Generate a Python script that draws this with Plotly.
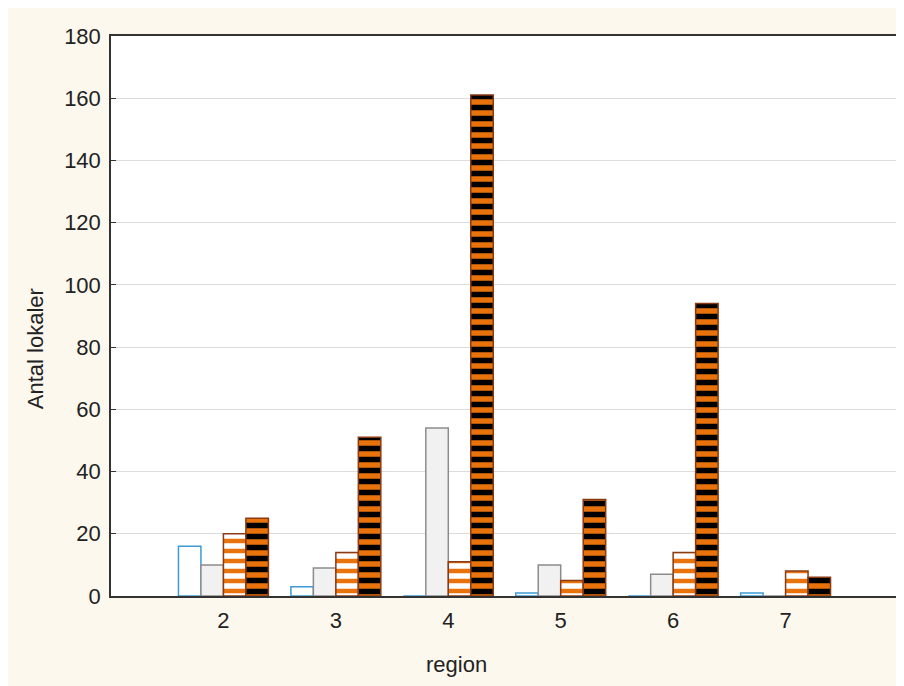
import plotly.graph_objects as go

regions = [2, 3, 4, 5, 6, 7]
series_a = [16, 3, 0, 1, 0, 1]
series_b = [10, 9, 54, 10, 7, 0]
series_c = [20, 14, 11, 5, 14, 8]
series_d = [25, 51, 161, 31, 94, 6]
y_ticks = [0, 20, 40, 60, 80, 100, 120, 140, 160, 180]

ORANGE = "#e8730c"
BROWN = "#8a3a14"
FONT = "Liberation Sans, Arial, sans-serif"

fig = go.Figure()
fig.add_trace(go.Bar(x=regions, y=series_a, name="A",
                     marker=dict(color="white", line=dict(color="#3d9ad6", width=1.5))))
fig.add_trace(go.Bar(x=regions, y=series_b, name="B",
                     marker=dict(color="#f1f1f1", line=dict(color="#8c8c8c", width=1.5))))
fig.add_trace(go.Bar(x=regions, y=series_c, name="C",
                     marker=dict(color="white", line=dict(color=BROWN, width=1.5),
                                 pattern=dict(shape="-", fgcolor=ORANGE, bgcolor="white",
                                              size=10, solidity=0.45, fillmode="replace"))))
fig.add_trace(go.Bar(x=regions, y=series_d, name="D",
                     marker=dict(color=ORANGE, line=dict(color=BROWN, width=1.5),
                                 pattern=dict(shape="-", fgcolor="black", bgcolor=ORANGE,
                                              size=11, solidity=0.5, fillmode="replace"))))

fig.update_layout(
    width=896, height=678,
    margin=dict(l=103, r=4, t=28, b=90),
    paper_bgcolor="#fdf8ee",
    plot_bgcolor="white",
    barmode="group", bargap=0.2, bargroupgap=0,
    showlegend=False,
    font=dict(family=FONT, size=22, color="#222222"),
    xaxis=dict(range=[1, 8], tickvals=regions, ticktext=[str(r) for r in regions],
               showgrid=False, zeroline=False, showline=True, linecolor="#333333",
               linewidth=1.5, mirror=True, ticks="", ticklabelstandoff=4,
               tickfont=dict(size=22, family=FONT, color="#222222")),
    yaxis=dict(range=[0, 180], tickvals=y_ticks, showgrid=True, gridcolor="#dcdcdc",
               gridwidth=1, zeroline=False, showline=True, linecolor="#333333",
               linewidth=1.5, mirror=True, ticks="inside", ticklen=5, tickcolor="#333333",
               ticklabelstandoff=4,
               tickfont=dict(size=22, family=FONT, color="#222222")),
    annotations=[
        dict(text="region", xref="paper", yref="paper", x=(457 - 111) / 789, y=-0.122,
             xanchor="center", yanchor="middle", showarrow=False,
             font=dict(size=22, family=FONT, color="#222222")),
        dict(text="Antal lokaler", xref="paper", yref="paper", x=(35 - 111) / 789,
             y=(596 - 349) / 560, xanchor="center", yanchor="middle", textangle=-90,
             showarrow=False, font=dict(size=22, family=FONT, color="#222222")),
    ],
)

fig.write_html("out.html")
